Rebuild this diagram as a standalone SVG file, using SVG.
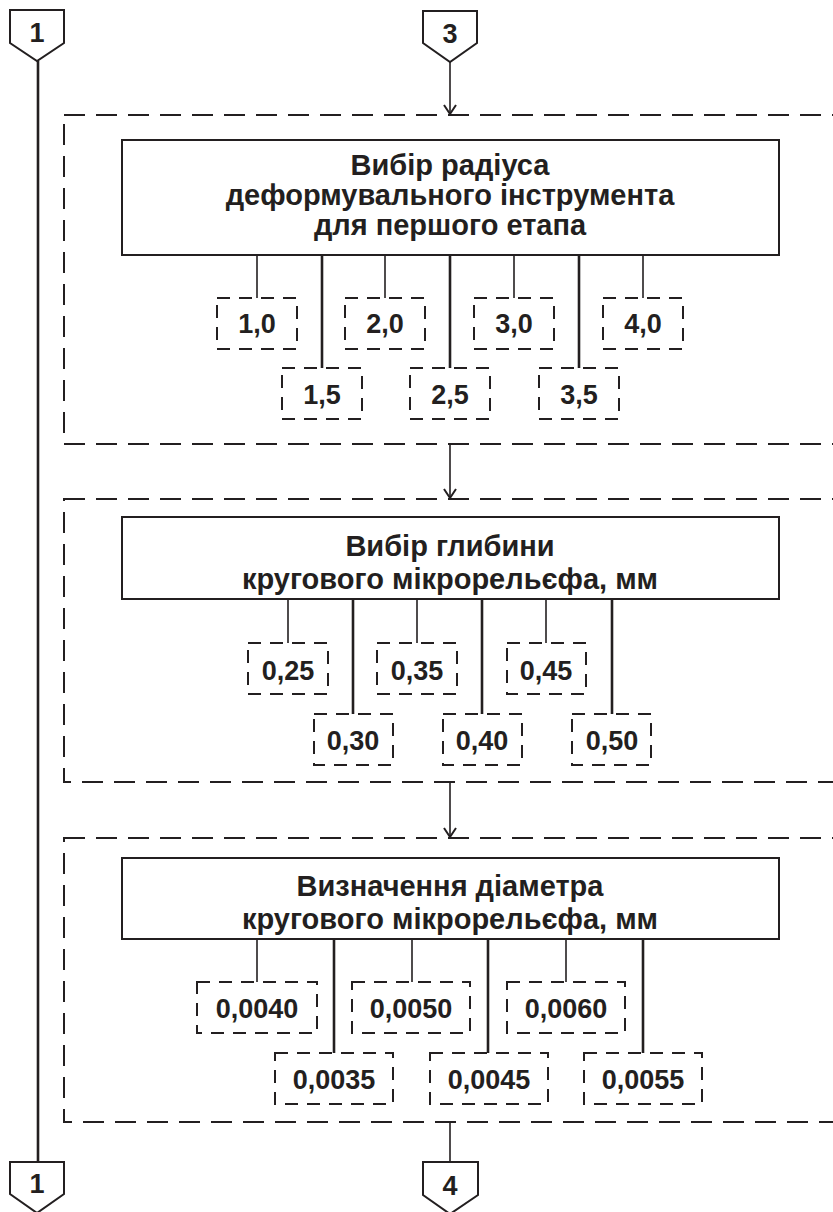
<svg xmlns="http://www.w3.org/2000/svg" width="833" height="1212" viewBox="0 0 833 1212">
<style>
.frame{fill:none;stroke:#231f20;stroke-width:2;stroke-dasharray:21 11}
.main{fill:#fff;stroke:#231f20;stroke-width:2}
.opt{fill:#fff;stroke:#231f20;stroke-width:2;stroke-dasharray:13 9}
.thin{stroke:#231f20;stroke-width:1.6;fill:none}
.thick{stroke:#231f20;stroke-width:2.6;fill:none}
.pent{fill:#fff;stroke:#231f20;stroke-width:2}
.t{font-family:"Liberation Sans",Arial,sans-serif;font-weight:bold;font-size:29px;fill:#231f20;text-anchor:middle}
.v{font-family:"Liberation Sans",Arial,sans-serif;font-weight:bold;font-size:27px;fill:#231f20;text-anchor:middle}
.p{font-family:"Liberation Sans",Arial,sans-serif;font-weight:bold;font-size:27px;fill:#231f20;text-anchor:middle}
</style>
<defs>
<marker id="arr" markerWidth="14" markerHeight="14" refX="11" refY="7" orient="auto" markerUnits="userSpaceOnUse" viewBox="0 0 14 14">
<path d="M2,1 L11,7 L2,13" fill="none" stroke="#231f20" stroke-width="2"/>
</marker>
</defs>

<g id="frames">
<rect class="frame" x="64" y="115" width="790" height="329"/>
<rect class="frame" x="64" y="499" width="790" height="283"/>
<rect class="frame" x="64" y="838" width="790" height="284"/>
</g>

<g id="connectors">
<line class="thick" x1="38" y1="61" x2="38" y2="1162" stroke-width="3.2"/>
<line class="thin" x1="450" y1="62" x2="450" y2="114" marker-end="url(#arr)"/>
<line class="thin" x1="450" y1="444" x2="450" y2="498" marker-end="url(#arr)"/>
<line class="thin" x1="450" y1="782" x2="450" y2="837" marker-end="url(#arr)"/>
<line class="thin" x1="450" y1="1122" x2="450" y2="1162"/>
<line class="thin" x1="257" y1="255" x2="257" y2="298"/>
<line class="thin" x1="385" y1="255" x2="385" y2="298"/>
<line class="thin" x1="514" y1="255" x2="514" y2="298"/>
<line class="thin" x1="643" y1="255" x2="643" y2="298"/>
<line class="thick" x1="322" y1="255" x2="322" y2="368"/>
<line class="thick" x1="450" y1="255" x2="450" y2="368"/>
<line class="thick" x1="579" y1="255" x2="579" y2="368"/>
<line class="thin" x1="288" y1="599" x2="288" y2="643"/>
<line class="thin" x1="417" y1="599" x2="417" y2="643"/>
<line class="thin" x1="546" y1="599" x2="546" y2="643"/>
<line class="thick" x1="353" y1="599" x2="353" y2="714"/>
<line class="thick" x1="482" y1="599" x2="482" y2="714"/>
<line class="thick" x1="612" y1="599" x2="612" y2="714"/>
<line class="thin" x1="257" y1="939" x2="257" y2="982"/>
<line class="thin" x1="412" y1="939" x2="412" y2="982"/>
<line class="thin" x1="566" y1="939" x2="566" y2="982"/>
<line class="thick" x1="334" y1="939" x2="334" y2="1053"/>
<line class="thick" x1="488" y1="939" x2="488" y2="1053"/>
<line class="thick" x1="643" y1="939" x2="643" y2="1053"/>
</g>

<g id="off1top">
<path class="pent" d="M10,10 H64 V43 L37,61 L10,43 Z"/>
<text class="p" x="37" y="42">1</text>
</g>
<g id="off3top">
<path class="pent" d="M423,11 H477 V43 L450,62 L423,43 Z"/>
<text class="p" x="450" y="43">3</text>
</g>
<g id="off1bottom">
<path class="pent" d="M10,1162 H64 V1194 L37,1213 L10,1194 Z"/>
<text class="p" x="37" y="1193">1</text>
</g>
<g id="off4bottom">
<path class="pent" d="M423,1162 H478 V1195 L450,1214 L423,1195 Z"/>
<text class="p" x="450" y="1195">4</text>
</g>

<g id="box1">
<rect class="main" x="122" y="140" width="657" height="115"/>
<text class="t" x="450" y="175">Вибір радіуса</text>
<text class="t" x="450" y="205">деформувального інструмента</text>
<text class="t" x="450" y="235">для першого етапа</text>
</g>
<g id="r10"><rect class="opt" x="217" y="298" width="80" height="51"/><text class="v" x="257" y="333">1,0</text></g>
<g id="r20"><rect class="opt" x="345" y="298" width="80" height="51"/><text class="v" x="385" y="333">2,0</text></g>
<g id="r30"><rect class="opt" x="474" y="298" width="80" height="51"/><text class="v" x="514" y="333">3,0</text></g>
<g id="r40"><rect class="opt" x="603" y="298" width="80" height="51"/><text class="v" x="643" y="333">4,0</text></g>
<g id="r15"><rect class="opt" x="282" y="368" width="80" height="51"/><text class="v" x="322" y="404">1,5</text></g>
<g id="r25"><rect class="opt" x="410" y="368" width="80" height="51"/><text class="v" x="450" y="404">2,5</text></g>
<g id="r35"><rect class="opt" x="539" y="368" width="80" height="51"/><text class="v" x="579" y="404">3,5</text></g>

<g id="box2">
<rect class="main" x="122" y="517" width="657" height="82"/>
<text class="t" x="450" y="556">Вибір глибини</text>
<text class="t" x="450" y="589">кругового мікрорельєфа, мм</text>
</g>
<g id="d025"><rect class="opt" x="248" y="643" width="80" height="51"/><text class="v" x="288" y="680">0,25</text></g>
<g id="d035"><rect class="opt" x="377" y="643" width="80" height="51"/><text class="v" x="417" y="680">0,35</text></g>
<g id="d045"><rect class="opt" x="507" y="643" width="79" height="51"/><text class="v" x="546" y="680">0,45</text></g>
<g id="d030"><rect class="opt" x="314" y="714" width="79" height="51"/><text class="v" x="353" y="750">0,30</text></g>
<g id="d040"><rect class="opt" x="443" y="714" width="79" height="51"/><text class="v" x="482" y="750">0,40</text></g>
<g id="d050"><rect class="opt" x="572" y="714" width="79" height="51"/><text class="v" x="612" y="750">0,50</text></g>

<g id="box3">
<rect class="main" x="122" y="858" width="657" height="81"/>
<text class="t" x="450" y="896">Визначення діаметра</text>
<text class="t" x="450" y="929">кругового мікрорельєфа, мм</text>
</g>
<g id="m0040"><rect class="opt" x="197" y="982" width="120" height="51"/><text class="v" x="257" y="1018">0,0040</text></g>
<g id="m0050"><rect class="opt" x="352" y="982" width="118" height="51"/><text class="v" x="411" y="1018">0,0050</text></g>
<g id="m0060"><rect class="opt" x="507" y="982" width="118" height="51"/><text class="v" x="566" y="1018">0,0060</text></g>
<g id="m0035"><rect class="opt" x="275" y="1053" width="118" height="51"/><text class="v" x="334" y="1089">0,0035</text></g>
<g id="m0045"><rect class="opt" x="430" y="1053" width="118" height="51"/><text class="v" x="489" y="1089">0,0045</text></g>
<g id="m0055"><rect class="opt" x="584" y="1053" width="118" height="51"/><text class="v" x="643" y="1089">0,0055</text></g>
</svg>
